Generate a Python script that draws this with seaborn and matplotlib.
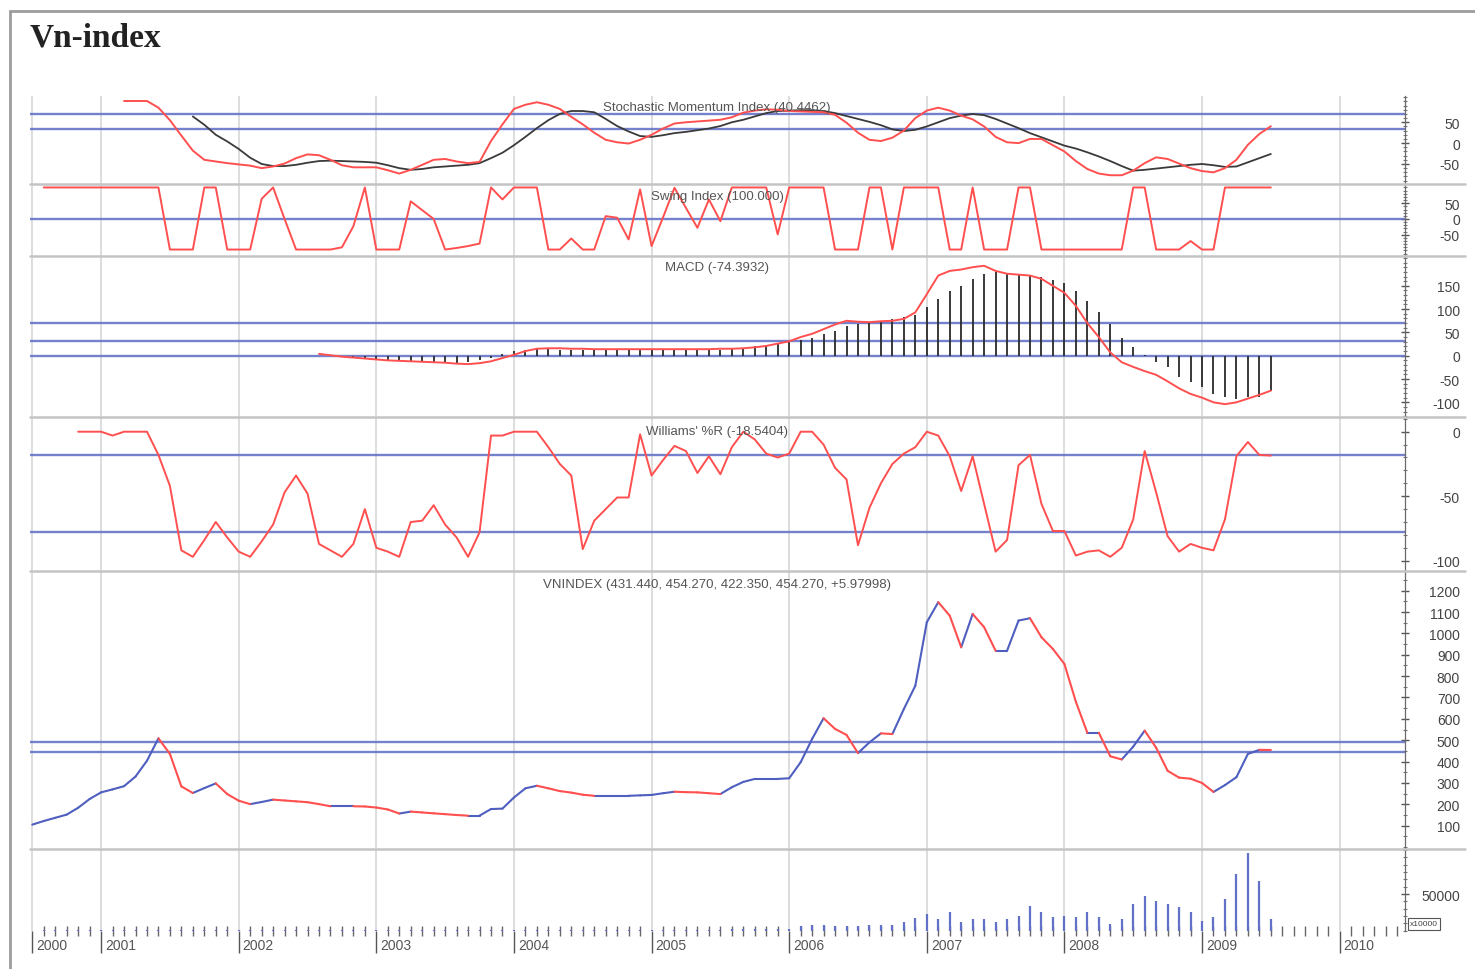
import numpy as np
import pandas as pd
import matplotlib
matplotlib.use("Agg")
import matplotlib.pyplot as plt
import seaborn as sns
from matplotlib.ticker import FixedLocator, MultipleLocator
from matplotlib.lines import Line2D
from matplotlib.patches import Rectangle
import matplotlib.transforms as mtransforms

# ------------------------------------------------------------------ data
# month index = months since Jan 2000 (6 = Jul 2000)
year_labels = ['2000', '2001', '2002', '2003', '2004', '2005', '2006', '2007', '2008', '2009', '2010']
year_months = [6, 12, 24, 36, 48, 60, 72, 84, 96, 108, 120]

smi_start = 14
smi_values = [101, 101, 101, 85, 55, 18, -18, -40, -44, -48,
              -51, -54, -60, -56, -49, -36, -27, -29, -40, -53,
              -58, -58, -58, -65, -73, -64, -52, -40, -38, -44,
              -48, -45, 5, 45, 82, 92, 98, 92, 82, 63,
              45, 25, 8, 2, -1, 8, 20, 35, 47, 50,
              52, 54, 56, 62, 73, 78, 81, 80, 77, 76,
              75, 74, 68, 49, 25, 8, 5, 13, 30, 60,
              78, 85, 78, 66, 57, 40, 15, 2, 0, 10,
              10, -5, -20, -43, -62, -73, -77, -77, -66, -48,
              -34, -38, -49, -60, -67, -70, -60, -40, -4, 22,
              40.4462]

smi_signal_start = 20
smi_signal = [64, 44, 20, 4, -14, -35, -50, -55, -55, -52,
              -47, -43, -42, -43, -44, -45, -47, -53, -60, -64,
              -62, -58, -56, -54, -52, -48, -36, -23, -5, 15,
              36, 55, 70, 77, 77, 74, 58, 41, 28, 17,
              15, 19, 24, 27, 31, 35, 41, 50, 56, 64,
              72, 77, 78, 79, 79, 77, 72, 65, 58, 51,
              43, 33, 29, 32, 40, 50, 60, 66, 70, 67,
              58, 47, 36, 24, 14, 4, -6, -13, -22, -32,
              -43, -55, -66, -64, -61, -58, -55, -52, -50, -53,
              -57, -56, -46, -36, -26]

swing_start = 7
swing_values = [100, 100, 100, 100, 100, 100, 100, 100, 100, 100,
                100, -97, -97, -97, 100, 100, -97, -97, -97, 64,
                100, 0, -97, -97, -97, -97, -90, -23, 100, -97,
                -97, -97, 56, 28, 0, -97, -92, -86, -78, 100,
                62, 100, 100, 100, -97, -97, -62, -97, -97, 9,
                4, -65, 94, -86, 5, 99, 35, -28, 62, -7,
                100, 100, 100, 100, -49, 100, 100, 100, 100, -97,
                -97, -97, 100, 100, -97, 100, 100, 100, 100, -97,
                -97, 100, -97, -97, -97, 100, 100, -97, -97, -97,
                -97, -97, -97, -97, -97, 100, 100, -97, -97, -97,
                -70, -97, -97, 100, 100, 100, 100, 100]

macd_hist_start = 33
macd_hist = [-2, -4, -6, -8, -10, -12, -13, -14, -15, -15,
             -15, -14, -10, -5, 3, 10, 13, 14, 14, 13,
             13, 13, 12, 12, 12, 12, 12, 13, 13, 13,
             12, 12, 12, 13, 14, 16, 20, 24, 27, 30,
             33, 38, 46, 54, 64, 68, 72, 75, 79, 83,
             88, 104, 122, 139, 150, 165, 175, 179, 177, 176,
             174, 169, 163, 155, 139, 118, 94, 68, 39, 18,
             2, -14, -25, -46, -57, -68, -82, -89, -93, -89,
             -89, -76]

macd_line_start = 31
macd_line = [4, 1, -2, -4, -6, -8, -10, -11, -12, -13,
             -14, -15, -17, -18, -16, -12, -5, 2, 10, 15,
             16, 16, 15, 15, 14, 14, 14, 14, 14, 14,
             14, 14, 14, 14, 14, 15, 15, 16, 18, 21,
             26, 31, 40, 47, 57, 67, 75, 73, 72, 74,
             75, 79, 93, 132, 172, 182, 185, 190, 193, 182,
             176, 174, 172, 165, 150, 135, 107, 70, 40, 7,
             -14, -24, -33, -41, -55, -70, -82, -90, -100, -104,
             -100, -92, -84, -75]

willr_start = 10
willr_values = [0, 0, 0, -3, 0, 0, 0, -18, -42, -92,
                -97, -84, -70, -82, -93, -97, -85, -72, -47, -34,
                -48, -87, -92, -97, -87, -60, -90, -93, -97, -70,
                -69, -57, -72, -82, -97, -78, -3, -3, 0, 0,
                0, -12, -25, -34, -91, -69, -60, -51, -51, -2,
                -34, -22, -11, -15, -32, -19, -33, -12, 0, -6,
                -17, -20, -17, 0, 0, -10, -28, -37, -88, -59,
                -40, -25, -17, -12, 0, -3, -19, -46, -19, -56,
                -93, -84, -26, -18, -56, -77, -77, -96, -93, -92,
                -97, -90, -68, -15, -47, -81, -93, -87, -90, -92,
                -68, -19, -8, -18, -18.5404]

vn_start = 6
vn_close = [105, 122, 137, 152, 184, 225, 256, 270, 285, 330,
            404, 509, 436, 284, 253, 276, 298, 248, 217, 201,
            211, 222, 218, 214, 210, 201, 191, 191, 191, 190,
            185, 176, 157, 166, 162, 158, 154, 150, 147, 147,
            178, 180, 232, 275, 287, 275, 262, 255, 245, 240,
            240, 240, 240, 242, 244, 252, 259, 257, 256, 252,
            248, 280, 305, 319, 319, 319, 322, 397, 506, 603,
            553, 525, 440, 490, 532, 529, 646, 755, 1052, 1146,
            1083, 935, 1091, 1029, 919, 919, 1060, 1071, 982, 927,
            857, 680, 535, 535, 425, 410, 470, 545, 465, 357,
            325, 320, 300, 258, 290, 327, 436, 455, 454.27]

vol_start = 6
vol_values = [200, 300, 300, 400, 400, 500, 600, 800, 900, 1000,
              1200, 900, 800, 700, 600, 600, 500, 500, 500, 400,
              400, 400, 400, 300, 300, 300, 300, 400, 400, 300,
              300, 300, 300, 300, 300, 300, 300, 300, 400, 600,
              800, 900, 1000, 1100, 1000, 900, 800, 800, 700, 700,
              700, 700, 800, 900, 1000, 1100, 1200, 1200, 1300, 1400,
              1500, 1800, 2000, 2200, 2500, 2800, 3000,
              6000, 7800, 7800, 6000, 6000, 6000, 7800, 7800, 7800, 11400,
              16900, 22700, 15900, 25000, 11400, 15900, 15900, 12300,
              15900, 20400, 34000, 25000, 18200, 20400, 18200, 25000, 18200, 9100,
              15900, 36400, 47700, 40900, 36400, 31900, 25000, 13600, 18200, 43000,
              77200, 105900, 68100, 15900]

smi_levels = [71, 35]
swing_levels = [0]
macd_levels = [69.5, 31, 0]
willr_levels = [-18, -77.5]
vn_levels = [490, 444]

panel_titles = ['Stochastic Momentum Index (40.4462)',
                'Swing Index (100.000)',
                'MACD (-74.3932)',
                "Williams' %R (-18.5404)",
                'VNINDEX (431.440, 454.270, 422.350, 454.270, +5.97998)',
                None]

# ------------------------------------------------------------------ style
sns.set_theme(style="white")
plt.rcParams['font.family'] = ['Liberation Sans', 'DejaVu Sans']
plt.rcParams['axes.unicode_minus'] = False

RED = '#ff4f4f'
BLUE_LINE = '#6574c9'
BLUE = '#4f5fbf'
GRID = '#d3d3d3'

W, H = 1475, 970
fig = plt.figure(figsize=(W / 100, H / 100), dpi=100)
fig.patch.set_facecolor('white')


def fx(px):
    return px / W


def fy(py):
    return 1 - py / H


X0, X1 = 30, 1405
T_LEFT, T_RIGHT = 5.8, 125.7
panels_px = [(97, 185), (185, 257), (257, 418), (418, 572), (572, 850), (850, 932)]
ylims = [(-98, 113), (-117.5, 111), (-131.5, 214), (-108, 11.4), (-9, 1292), (-400, 111400)]
majors = [[50, 0, -50], [50, 0, -50], [150, 100, 50, 0, -50, -100], [0, -50, -100],
          list(range(100, 1300, 100)), [50000]]
minors = [10, 10, 10, 10, 50, 10000]
title_y = [108, 197, 268, 432, 585, None]


def months(start, vals):
    return np.arange(start, start + len(vals))


axes = []
for i, (top, bot) in enumerate(panels_px):
    ax = fig.add_axes([fx(X0), fy(bot), fx(X1 - X0), (bot - top) / H])
    ax.set_xlim(T_LEFT, T_RIGHT)
    ax.set_ylim(*ylims[i])
    ax.set_facecolor('none')
    ax.grid(False)
    for s in ('top', 'left', 'bottom'):
        ax.spines[s].set_visible(False)
    ax.spines['right'].set_visible(True)
    ax.spines['right'].set_color('#6a6a6a')
    ax.spines['right'].set_linewidth(0.9)
    ax.yaxis.tick_right()
    ax.set_yticks(majors[i])
    ax.set_yticklabels([str(v) for v in majors[i]], ha='right')
    ax.yaxis.set_minor_locator(MultipleLocator(minors[i]))
    ax.tick_params(axis='y', which='major', direction='inout', length=6, width=1.0,
                   color='#555555', labelsize=10, labelcolor='#444444', pad=36.6,
                   right=True, left=False)
    ax.tick_params(axis='y', which='minor', direction='inout', length=3, width=0.8,
                   color='#777777', right=True, left=False)
    ax.tick_params(axis='x', which='both', bottom=False, top=False, labelbottom=False)
    for m in year_months:
        ax.axvline(m, color=GRID, lw=1.1, zorder=0)
    ax.set_xlabel('')
    ax.set_ylabel('')
    axes.append(ax)

ax_smi, ax_sw, ax_macd, ax_wr, ax_vn, ax_vol = axes

# levels
for ax, levels in [(ax_smi, smi_levels), (ax_sw, swing_levels), (ax_macd, macd_levels),
                   (ax_wr, willr_levels), (ax_vn, vn_levels)]:
    for lv in levels:
        ax.axhline(lv, color=BLUE_LINE, lw=1.7, alpha=0.9, zorder=1)

# SMI
sns.lineplot(x=months(smi_signal_start, smi_signal), y=smi_signal, ax=ax_smi,
             color='#3a3a3a', lw=1.3, zorder=3)
sns.lineplot(x=months(smi_start, smi_values), y=smi_values, ax=ax_smi,
             color=RED, lw=1.4, zorder=4)

# Swing
sns.lineplot(x=months(swing_start, swing_values), y=swing_values, ax=ax_sw,
             color=RED, lw=1.4, zorder=4)

# MACD
ax_macd.vlines(months(macd_hist_start, macd_hist), 0, macd_hist, color='#2a2a2a', lw=1.3, zorder=3)
sns.lineplot(x=months(macd_line_start, macd_line), y=macd_line, ax=ax_macd,
             color=RED, lw=1.4, zorder=4)

# Williams %R
sns.lineplot(x=months(willr_start, willr_values), y=willr_values, ax=ax_wr,
             color=RED, lw=1.4, zorder=4)

# VNINDEX: up segments blue, down segments red
vm = months(vn_start, vn_close)
rows = []
for k in range(len(vn_close) - 1):
    d = 'down' if vn_close[k + 1] < vn_close[k] else 'up'
    rows.append((vm[k], vn_close[k], k, d))
    rows.append((vm[k + 1], vn_close[k + 1], k, d))
vn_df = pd.DataFrame(rows, columns=['t', 'v', 'seg', 'dir'])
sns.lineplot(data=vn_df, x='t', y='v', hue='dir', units='seg', estimator=None,
             palette={'up': BLUE, 'down': RED}, legend=False, sort=False,
             ax=ax_vn, lw=1.5, zorder=4)

# Volume
ax_vol.vlines(months(vol_start, vol_values), 0, vol_values, color='#6270c8', lw=1.6, zorder=3)

for ax in axes:
    ax.set_xlim(T_LEFT, T_RIGHT)
    ax.set_xlabel('')
    ax.set_ylabel('')

# bottom time axis
ax_vol.set_xticks(year_months)
ax_vol.set_xticklabels([''] * len(year_months))
ax_vol.xaxis.set_minor_locator(FixedLocator([m for m in range(7, 126) if m not in year_months]))
ax_vol.tick_params(axis='x', which='major', bottom=True, direction='out', length=16,
                   width=1.0, color='#555555')
ax_vol.tick_params(axis='x', which='minor', bottom=True, direction='inout', length=7,
                   width=1.0, color='#666666')
trans = mtransforms.blended_transform_factory(ax_vol.transData, ax_vol.transAxes)
for m, lab in zip(year_months, year_labels):
    ax_vol.text(m + 0.35, -0.17, lab, transform=trans, ha='left', va='center',
                fontsize=10, color='#555555')

# panel titles
for t, ty in zip(panel_titles, title_y):
    if t:
        fig.text(fx(717), fy(ty), t, ha='center', va='center', fontsize=9.5, color='#555555')

# separators between panels
for yy in [185, 257, 418, 572, 850]:
    fig.add_artist(Line2D([fx(30), fx(1465)], [fy(yy), fy(yy)], color='#c4c4c4', lw=1.8))

# x10000 box
fig.text(fx(1424), fy(925), 'x10000', ha='center', va='center', fontsize=6, color='#444444',
         bbox=dict(boxstyle='square,pad=0.25', fc='white', ec='#555555', lw=0.8))

# outer frame & title
fig.add_artist(Rectangle((fx(10), fy(985)), fx(1490) - fx(10), fy(12) - fy(985), fill=False,
                         ec='#9c9c9c', lw=2, transform=fig.transFigure))
fig.text(fx(30), fy(38), 'Vn-index', ha='left', va='center', fontsize=24, fontweight='bold',
         family=['Liberation Serif', 'DejaVu Serif'], color='#222222')

fig.savefig('out.png', dpi=100, facecolor='white')
